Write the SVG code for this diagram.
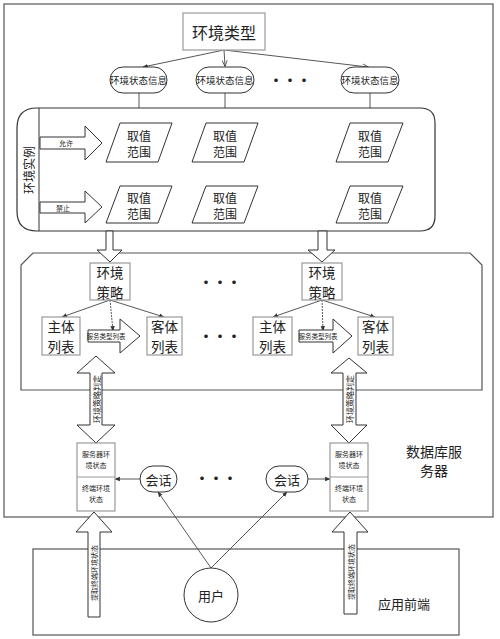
<svg xmlns="http://www.w3.org/2000/svg" width="500" height="639" viewBox="0 0 500 639">
<defs>
<marker id="ah" viewBox="0 0 10 10" refX="9" refY="5" markerWidth="6" markerHeight="6" orient="auto-start-reverse">
<path d="M0,1 L10,5 L0,9 z" fill="#333"/>
</marker>
<marker id="ao" viewBox="0 0 10 10" refX="9" refY="5" markerWidth="7" markerHeight="7" orient="auto">
<path d="M0,1 L10,5 L0,9" fill="none" stroke="#333" stroke-width="1.2"/>
</marker>
</defs>
<style>
text{font-family:"Noto Sans CJK SC","Liberation Serif",serif;fill:#222;text-anchor:middle;dominant-baseline:central}
.frame{fill:none;stroke:#555;stroke-width:1.2}
.box{fill:#fff;stroke:#999;stroke-width:1.2}
.nb{fill:#fff;stroke:#333;stroke-width:1}
.big{fill:#fff;stroke:#333;stroke-width:1.2}
.ln{fill:none;stroke:#444;stroke-width:0.9}
.dots{font-size:14px;font-weight:bold}
.rg{font-size:12px}
.lb{font-size:13.5px}
.st{font-size:7px}
</style>
<rect x="4" y="4" width="489" height="513" class="frame"/>
<rect x="33" y="549" width="426" height="86" class="frame"/>
<g id="connectors">
<line x1="224" y1="50" x2="143" y2="67" class="ln" marker-end="url(#ah)"/>
<line x1="224" y1="50" x2="225" y2="66" class="ln" marker-end="url(#ao)"/>
<line x1="224" y1="50" x2="368" y2="67" class="ln" marker-end="url(#ao)"/>
<line x1="139" y1="93" x2="139" y2="123" class="ln" marker-end="url(#ah)"/>
<line x1="225" y1="93" x2="225" y2="123" class="ln" marker-end="url(#ah)"/>
<line x1="370" y1="93" x2="370" y2="123" class="ln" marker-end="url(#ah)"/>
<line x1="139" y1="162" x2="139" y2="186" class="ln" marker-end="url(#ah)"/>
<line x1="225" y1="162" x2="225" y2="186" class="ln" marker-end="url(#ah)"/>
<line x1="370" y1="162" x2="370" y2="186" class="ln" marker-end="url(#ah)"/>
<line x1="110" y1="300" x2="62" y2="317" class="ln" marker-end="url(#ah)"/>
<line x1="110" y1="300" x2="113" y2="331" class="ln" stroke-dasharray="2,1" marker-end="url(#ah)"/>
<line x1="110" y1="300" x2="164" y2="317" class="ln" marker-end="url(#ah)"/>
<line x1="322" y1="300" x2="273" y2="317" class="ln" marker-end="url(#ah)"/>
<line x1="322" y1="300" x2="323" y2="331" class="ln" stroke-dasharray="2,1" marker-end="url(#ah)"/>
<line x1="322" y1="300" x2="375" y2="317" class="ln" marker-end="url(#ah)"/>
<line x1="140" y1="479" x2="115" y2="479" class="ln" marker-end="url(#ah)"/>
<line x1="308" y1="479" x2="330" y2="479" class="ln" marker-end="url(#ah)"/>
<line x1="211" y1="568" x2="158" y2="492" class="ln" marker-end="url(#ah)"/>
<line x1="211" y1="568" x2="287" y2="492" class="ln" marker-end="url(#ah)"/>
</g>
<g id="instance">
<path d="M39,108 L420,108 Q435,108 435,123 L435,216 Q435,231 420,231 L39,231 L37,231 Q17,231 17,211 L17,128 Q17,108 37,108 Z" class="big"/>
<line x1="39" y1="108" x2="39" y2="231" stroke="#333" stroke-width="1"/>
<text x="28" y="170" font-size="12" transform="rotate(-90 28 170)">环境实例</text>
</g>
<g id="allow">
<path d="M40,137 L85,137 L85,126 L102,143 L85,160 L85,149 L40,149 Z" class="nb"/>
<text x="66" y="143" font-size="7">允许</text>
</g>
<g id="deny">
<path d="M40,202 L85,202 L85,191 L102,207 L85,223 L85,213 L40,213 Z" class="nb"/>
<text x="63" y="208" font-size="7">禁止</text>
</g>
<g id="policy-area">
<path d="M33,253 L470,253 L482,265 L482,390 L21,390 L21,265 Z" class="frame"/>
</g>
<g id="env-type"><rect x="183" y="13" width="82" height="37" class="box"/><text x="224" y="32" font-size="16">环境类型</text></g>
<g id="info1"><rect x="110" y="67" width="57" height="26" rx="13" class="nb"/><text x="138.5" y="80" font-size="9.5">环境状态信息</text></g>
<g id="info2"><rect x="196" y="67" width="58" height="26" rx="13" class="nb"/><text x="225" y="80" font-size="9.5">环境状态信息</text></g>
<g id="info3"><rect x="341" y="67" width="58" height="26" rx="13" class="nb"/><text x="370" y="80" font-size="9.5">环境状态信息</text></g>
<text x="290" y="79" class="dots">•••</text>
<g id="range-1a"><path d="M120,123 L172,123 L158,162 L106,162 Z" class="nb"/><text x="139" y="135" class="rg">取值</text><text x="139" y="151" class="rg">范围</text></g>
<g id="range-1b"><path d="M120,186 L172,186 L158,223 L106,223 Z" class="nb"/><text x="139" y="197" class="rg">取值</text><text x="139" y="213" class="rg">范围</text></g>
<g id="range-2a"><path d="M206,123 L258,123 L244,162 L192,162 Z" class="nb"/><text x="225" y="135" class="rg">取值</text><text x="225" y="151" class="rg">范围</text></g>
<g id="range-2b"><path d="M206,186 L258,186 L244,223 L192,223 Z" class="nb"/><text x="225" y="197" class="rg">取值</text><text x="225" y="213" class="rg">范围</text></g>
<g id="range-3a"><path d="M350,123 L403,123 L388,162 L336,162 Z" class="nb"/><text x="370" y="135" class="rg">取值</text><text x="370" y="151" class="rg">范围</text></g>
<g id="range-3b"><path d="M350,186 L403,186 L388,223 L336,223 Z" class="nb"/><text x="370" y="197" class="rg">取值</text><text x="370" y="213" class="rg">范围</text></g>
<g id="down-arrow-1"><path d="M106,231 L113,231 L113,250 L122,250 L110,262 L97,250 L106,250 Z" class="nb"/></g>
<g id="down-arrow-2"><path d="M318,231 L327,231 L327,250 L335,250 L322,262 L308,250 L318,250 Z" class="nb"/></g>
<g id="policy-1"><rect x="90" y="263" width="40" height="37" class="box"/><text x="110" y="272" class="lb">环境</text><text x="110" y="291.5" class="lb">策略</text></g>
<g id="policy-2"><rect x="302" y="263" width="40" height="37" class="box"/><text x="322" y="272" class="lb">环境</text><text x="322" y="291.5" class="lb">策略</text></g>
<g id="subject-1"><rect x="42" y="317" width="38" height="38" class="box"/><text x="61" y="326" class="lb">主体</text><text x="61" y="345.5" class="lb">列表</text></g>
<g id="object-1"><rect x="147" y="317" width="35" height="38" class="box"/><text x="164.5" y="326" class="lb">客体</text><text x="164.5" y="345.5" class="lb">列表</text></g>
<g id="subject-2"><rect x="253" y="317" width="39" height="38" class="box"/><text x="272.5" y="326" class="lb">主体</text><text x="272.5" y="345.5" class="lb">列表</text></g>
<g id="object-2"><rect x="358" y="317" width="35" height="38" class="box"/><text x="375.5" y="326" class="lb">客体</text><text x="375.5" y="345.5" class="lb">列表</text></g>
<g id="service-1"><path d="M88,330 L120,330 L120,319 L140,336 L120,353 L120,342 L88,342 Z" class="nb"/><text x="106" y="336" font-size="6.5">服务类型列表</text></g>
<g id="service-2"><path d="M299,330 L333,330 L333,319 L352,336 L333,353 L333,342 L299,342 Z" class="nb"/><text x="318" y="336" font-size="6.5">服务类型列表</text></g>
<text x="220" y="281" class="dots">•••</text>
<text x="220" y="335" class="dots">•••</text>
<g id="judge-1"><path d="M96,356 L115,373 L102,373 L102,425 L115,425 L96,443 L77,425 L90,425 L90,373 L77,373 Z" class="nb"/><text x="96" y="399" font-size="8" transform="rotate(-90 96 399)">环境策略判定</text></g>
<g id="judge-2"><path d="M349,358 L367,373 L356,373 L356,425 L367,425 L349,443 L331,425 L343,425 L343,373 L331,373 Z" class="nb"/><text x="349.5" y="399" font-size="8" transform="rotate(-90 349.5 399)">环境策略判定</text></g>
<g id="state-1"><rect x="77" y="443" width="38" height="68" class="box"/><line x1="77" y1="477" x2="115" y2="477" stroke="#999" stroke-width="1"/><text x="96" y="454" class="st">服务器环</text><text x="96" y="465" class="st">境状态</text><text x="96" y="488" class="st">终端环境</text><text x="96" y="499" class="st">状态</text></g>
<g id="state-2"><rect x="330" y="443" width="38" height="68" class="box"/><line x1="330" y1="477" x2="368" y2="477" stroke="#999" stroke-width="1"/><text x="349" y="454" class="st">服务器环</text><text x="349" y="465" class="st">境状态</text><text x="349" y="488" class="st">终端环境</text><text x="349" y="499" class="st">状态</text></g>
<g id="session-1"><rect x="140" y="466" width="37" height="26" rx="13" class="nb"/><text x="158.5" y="479" font-size="13">会话</text></g>
<g id="session-2"><rect x="266" y="466" width="42" height="26" rx="13" class="nb"/><text x="287" y="479" font-size="13">会话</text></g>
<text x="216" y="477" class="dots">•••</text>
<text x="434" y="451" font-size="14">数据库服</text>
<text x="434" y="470" font-size="14">务器</text>
<g id="fetch-1"><path d="M94,512 L112,532 L100,532 L100,617 L88,617 L88,532 L76,532 Z" class="nb"/><text x="94" y="573" font-size="7" transform="rotate(-90 94 573)">提取终端环境状态</text></g>
<g id="fetch-2"><path d="M350,512 L368,532 L357,532 L357,614 L344,614 L344,532 L332,532 Z" class="nb"/><text x="350.5" y="572" font-size="7" transform="rotate(-90 350.5 572)">提取终端环境状态</text></g>
<g id="user"><circle cx="211" cy="595" r="27" class="nb"/><text x="211" y="595" font-size="13">用户</text></g>
<text x="404" y="603" font-size="13">应用前端</text>
</svg>
